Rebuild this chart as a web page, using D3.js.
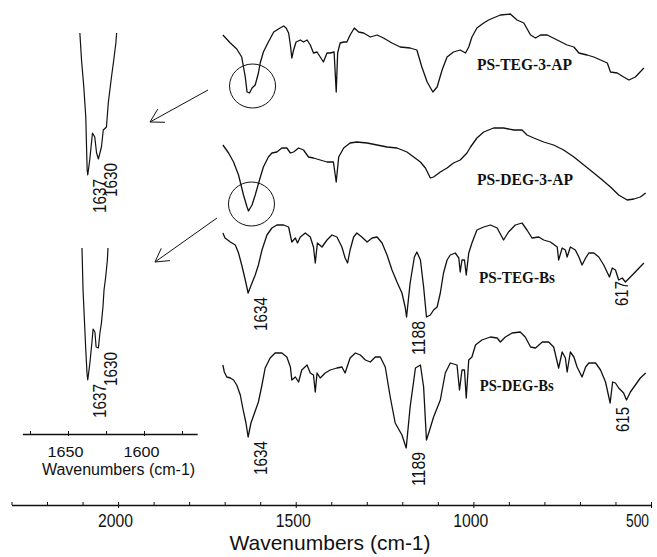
<!DOCTYPE html>
<html>
<head>
<meta charset="utf-8">
<script src="https://cdn.jsdelivr.net/npm/d3@7/dist/d3.min.js"></script>
<style>
  html, body { margin: 0; padding: 0; background: #fff; }
  svg { display: block; }
</style>
</head>
<body>
<svg id="chart" width="657" height="557"></svg>
<script>
// FTIR spectra, [wavenumber (cm-1), stacked transmittance (a.u.)]
const seriesNames = ["PS-TEG-3-AP", "PS-DEG-3-AP", "PS-TEG-Bs", "PS-DEG-Bs"];

const specTeg3ap = [[1705,465],[1684,457],[1666,451],[1652,443],[1642,423],[1637,408],[1630,407],[1623,412],[1614,415],[1605,427],[1600,437],[1591,448],[1577,458],[1562,468],[1553,470],[1544,472],[1534,474],[1527,472],[1520,467],[1515,455],[1511,442],[1506,450],[1499,458],[1487,460],[1478,458],[1468,460],[1459,455],[1450,447],[1440,448],[1431,443],[1422,438],[1412,447],[1403,447],[1392,448],[1386,408],[1382,447],[1375,457],[1365,458],[1356,458],[1347,465],[1335,472],[1323,468],[1309,467],[1290,463],[1271,465],[1253,462],[1229,457],[1206,453],[1178,452],[1159,450],[1145,433],[1130,418],[1114,408],[1102,413],[1088,430],[1074,443],[1056,448],[1037,450],[1022,447],[1013,453],[1004,463],[990,472],[971,477],[957,480],[924,485],[896,486],[877,480],[858,477],[839,465],[825,462],[811,465],[792,465],[764,460],[736,455],[717,453],[703,447],[680,445],[661,443],[642,440],[623,437],[614,428],[595,427],[577,423],[562,420],[544,423],[520,432]];

const specDeg3ap = [[1705,355],[1689,347],[1675,338],[1661,325],[1647,305],[1637,293],[1633,289],[1623,295],[1614,305],[1602,320],[1591,333],[1577,343],[1567,347],[1553,348],[1539,352],[1525,352],[1515,347],[1506,348],[1492,352],[1478,350],[1464,343],[1450,342],[1431,340],[1412,338],[1394,338],[1386,318],[1379,343],[1365,352],[1347,357],[1328,358],[1299,357],[1271,355],[1243,353],[1215,352],[1187,348],[1168,343],[1149,338],[1135,332],[1121,322],[1112,323],[1093,328],[1074,332],[1056,337],[1037,340],[1018,347],[1008,353],[990,362],[971,368],[943,372],[915,372],[886,370],[863,370],[849,365],[830,362],[802,358],[774,355],[746,350],[717,343],[689,335],[661,327],[637,320],[614,313],[591,305],[567,300],[548,301],[530,303],[515,307]];

const specTegBs = [[1705,267],[1699,262],[1684,258],[1670,255],[1661,247],[1652,235],[1642,220],[1634,207],[1623,217],[1614,225],[1605,235],[1595,250],[1581,265],[1567,272],[1553,275],[1534,275],[1520,273],[1511,258],[1501,262],[1495,257],[1487,263],[1473,267],[1459,263],[1450,253],[1445,237],[1439,257],[1426,253],[1412,260],[1398,265],[1384,263],[1370,253],[1361,242],[1354,237],[1347,250],[1337,263],[1328,267],[1314,263],[1299,258],[1285,262],[1271,263],[1257,257],[1243,245],[1229,230],[1215,218],[1201,207],[1192,193],[1188,183],[1178,217],[1166,243],[1159,248],[1149,240],[1140,213],[1132,183],[1121,185],[1112,190],[1102,193],[1093,207],[1084,227],[1074,240],[1065,245],[1051,247],[1041,242],[1037,228],[1032,240],[1025,240],[1020,225],[1013,247],[1004,257],[990,270],[971,273],[952,275],[933,272],[915,260],[901,268],[882,275],[863,277],[849,270],[835,262],[816,263],[802,260],[783,258],[764,253],[760,240],[750,252],[741,250],[736,243],[727,253],[713,250],[703,243],[694,235],[684,242],[675,247],[661,247],[647,243],[633,235],[617,223],[609,232],[600,230],[591,220],[581,222],[572,218],[558,223],[539,230],[520,237]];

const specDegBs = [[1705,135],[1701,128],[1694,123],[1684,122],[1675,120],[1666,115],[1656,105],[1649,92],[1640,77],[1634,63],[1626,77],[1616,87],[1605,98],[1595,115],[1586,132],[1572,142],[1558,147],[1539,147],[1525,143],[1515,133],[1511,120],[1501,123],[1492,118],[1483,130],[1468,135],[1459,127],[1450,125],[1445,108],[1440,127],[1431,122],[1417,127],[1403,130],[1384,132],[1370,133],[1361,127],[1347,142],[1332,147],[1318,145],[1304,140],[1290,138],[1276,143],[1262,143],[1248,133],[1234,103],[1220,77],[1201,65],[1189,52],[1178,93],[1163,132],[1149,135],[1140,113],[1132,60],[1123,70],[1112,83],[1093,100],[1079,127],[1065,137],[1046,135],[1039,110],[1032,130],[1025,130],[1020,102],[1013,140],[1004,143],[994,155],[976,160],[952,163],[933,162],[924,158],[910,163],[891,167],[868,168],[854,163],[839,153],[825,152],[806,158],[788,158],[774,153],[760,132],[750,148],[741,142],[736,128],[727,148],[717,143],[708,133],[694,123],[684,133],[675,137],[656,137],[642,130],[628,118],[615,97],[608,118],[600,117],[591,112],[577,107],[569,100],[558,108],[544,115],[530,122],[515,127]];

// expanded C=C / C=N region of the two 3-AP samples
const zoomTeg3ap = [[1642.2,467],[1641.1,440],[1639.6,413],[1638.3,383],[1637.8,353],[1637.4,330],[1637,325],[1635.7,340],[1633.9,367],[1632.4,363],[1631.2,347],[1630,341],[1628,353],[1626.8,370],[1624.7,373],[1623.5,397],[1621.4,423],[1619.9,440],[1618.5,457],[1618,467]];
const zoomDeg3ap = [[1640.8,252],[1640.1,210],[1639.2,180],[1638.3,150],[1637.5,127],[1637,120],[1635.6,137],[1634.3,157],[1633.5,171],[1632.3,168],[1631.5,153],[1630,152],[1629,167],[1628,177],[1627,193],[1626.3,210],[1625.2,223],[1624.1,240],[1623.7,252]];

// band assignments printed under the curves
const peakSeries = [2, 2, 2, 3, 3, 3];
const peakWn     = [1634, 1188, 617, 1634, 1189, 615];
const zoomPeakSeries = [0, 0, 1, 1];
const zoomPeakWn     = [1637, 1630, 1637, 1630];

// axes
const mainTicks = d3.range(2300, 499, -100);
const mainTickLabels = [2000, 1500, 1000, 500];
const zoomTicks = [1675, 1650, 1625, 1600, 1575];
const zoomTickLabels = [1650, 1600];
const axisTitle = "Wavenumbers (cm-1)";

// ---------------------------------------------------------------
const svg = d3.select("#chart");
const spectra = [specTeg3ap, specDeg3ap, specTegBs, specDegBs];
const zooms = [zoomTeg3ap, zoomDeg3ap];

const x  = d3.scaleLinear().domain([2300, 500]).range([11.5, 651]);
const xi = d3.scaleLinear().domain([1680, 1565]).range([22.4, 197.2]);
const y  = d3.scaleLinear().domain([0, 500]).range([500, 0]);

const ink = "#111";
const numFont = "'Liberation Sans Narrow','Arial Narrow','Liberation Sans',Arial,sans-serif";
const plain = d3.format("d");

const lineMain = d3.line().x(d => x(d[0])).y(d => y(d[1]));
const lineZoom = d3.line().x(d => xi(d[0])).y(d => y(d[1]));

// spectra
svg.append("g").selectAll("path").data(spectra).join("path")
  .attr("d", lineMain).attr("fill", "none")
  .attr("stroke", ink).attr("stroke-width", 1.3).attr("stroke-linejoin", "round");

svg.append("g").selectAll("path").data(zooms).join("path")
  .attr("d", lineZoom).attr("fill", "none")
  .attr("stroke", ink).attr("stroke-width", 1.2).attr("stroke-linejoin", "round");

// sample names
const namePlace = [[990, 430], [990, 315], [984, 217], [982, 109]];
const nameLen = [95, 96, 76, 74];
svg.append("g").selectAll("text").data(seriesNames).join("text")
  .attr("x", (d, i) => x(namePlace[i][0]))
  .attr("y", (d, i) => y(namePlace[i][1]))
  .attr("font-family", "'Liberation Serif','Times New Roman',serif")
  .attr("font-weight", "bold").attr("font-size", 17)
  .attr("textLength", (d, i) => nameLen[i]).attr("lengthAdjust", "spacingAndGlyphs")
  .attr("fill", ink).text(d => d);

// rotated band labels
function valueAt(series, wn) {
  return series.reduce((a, b) => Math.abs(b[0] - wn) < Math.abs(a[0] - wn) ? b : a)[1];
}
function bandLabel(g, px, py, txt) {
  g.append("text")
    .attr("transform", `translate(${px},${py}) rotate(-90)`)
    .attr("text-anchor", "end").attr("dy", "0.36em")
    .attr("font-family", numFont).attr("font-size", 18)
    .attr("textLength", txt.length === 4 ? 34 : 25).attr("lengthAdjust", "spacingAndGlyphs")
    .attr("fill", ink).text(txt);
}
const gPeaks = svg.append("g");
peakWn.forEach((wn, i) => {
  const s = spectra[peakSeries[i]];
  bandLabel(gPeaks, x(wn) + 12, y(valueAt(s, wn)) + 4, plain(wn));
});
zoomPeakWn.forEach((wn, i) => {
  const s = zooms[zoomPeakSeries[i]];
  bandLabel(gPeaks, xi(wn) + 12, y(valueAt(s, wn)) + 4, plain(wn));
});

// circles around the expanded band
[specTeg3ap, specDeg3ap].forEach(s => {
  const m = d3.least(s.filter(d => d[0] > 1600 && d[0] < 1660), d => d[1]);
  svg.append("ellipse")
    .attr("cx", x(m[0]) + 3).attr("cy", y(m[1]) - 7)
    .attr("rx", 23).attr("ry", 22)
    .attr("fill", "none").attr("stroke", ink).attr("stroke-width", 1);
});

// arrows pointing to the expanded views
const arrows = [[[208, 90], [150, 122]], [[217, 218], [155, 262]]];
arrows.forEach(([a, b]) => {
  const ang = Math.atan2(a[1] - b[1], a[0] - b[0]);
  const L = 15, h = Math.PI / 6;
  const p1 = [b[0] + L * Math.cos(ang + h), b[1] + L * Math.sin(ang + h)];
  const p2 = [b[0] + L * Math.cos(ang - h), b[1] + L * Math.sin(ang - h)];
  svg.append("path")
    .attr("d", `M${a[0]},${a[1]}L${b[0]},${b[1]}M${p1[0]},${p1[1]}L${b[0]},${b[1]}L${p2[0]},${p2[1]}`)
    .attr("fill", "none").attr("stroke", ink).attr("stroke-width", 1);
});

// main axis
const axisY = 505;
const gAx = svg.append("g").attr("transform", `translate(0,${axisY})`);
gAx.call(d3.axisTop(x).tickValues(mainTicks).tickSize(3).tickSizeOuter(0).tickFormat(""));
gAx.select(".domain").attr("stroke", ink).attr("stroke-width", 1.3);
gAx.selectAll(".tick line").attr("stroke", ink);
const gAx2 = svg.append("g").attr("transform", `translate(0,${axisY})`);
gAx2.call(d3.axisBottom(x).tickValues(mainTickLabels).tickSize(3).tickSizeOuter(0).tickFormat(plain));
gAx2.select(".domain").remove();
gAx2.selectAll(".tick line").attr("stroke", ink);
gAx2.selectAll(".tick text")
  .attr("y", 22).attr("dy", 0)
  .attr("x", (d, i, n) => i === n.length - 1 ? -14 : -3)
  .attr("text-anchor", "middle")
  .attr("font-family", numFont).attr("font-size", 18).attr("fill", ink)
  .attr("textLength", d => plain(d).length === 4 ? 35 : 23).attr("lengthAdjust", "spacingAndGlyphs");

svg.append("text").attr("x", 330).attr("y", 550).attr("text-anchor", "middle")
  .attr("font-family", "'Liberation Sans',Arial,sans-serif").attr("font-size", 21)
  .attr("fill", ink).text(axisTitle);

// expanded-view axis
const zAxisY = 434;
const gZ = svg.append("g").attr("transform", `translate(0,${zAxisY})`);
gZ.call(d3.axisTop(xi).tickValues(zoomTicks).tickSize(3).tickSizeOuter(0).tickFormat(""));
gZ.select(".domain").attr("stroke", ink).attr("stroke-width", 1.3);
gZ.selectAll(".tick line").attr("stroke", ink);
const gZ2 = svg.append("g").attr("transform", `translate(0,${zAxisY})`);
gZ2.call(d3.axisBottom(xi).tickValues(zoomTickLabels).tickSize(2).tickSizeOuter(0).tickFormat(plain));
gZ2.select(".domain").remove();
gZ2.selectAll(".tick line").attr("stroke", ink);
gZ2.selectAll(".tick text")
  .attr("y", 23).attr("dy", 0).attr("x", -3)
  .attr("font-family", "'Liberation Sans',Arial,sans-serif").attr("font-size", 14).attr("fill", ink)
  .attr("textLength", 36).attr("lengthAdjust", "spacingAndGlyphs");

svg.append("text").attr("x", 118.5).attr("y", 475).attr("text-anchor", "middle")
  .attr("font-family", "'Liberation Sans',Arial,sans-serif").attr("font-size", 16)
  .attr("fill", ink).text(axisTitle);
</script>
</body>
</html>
